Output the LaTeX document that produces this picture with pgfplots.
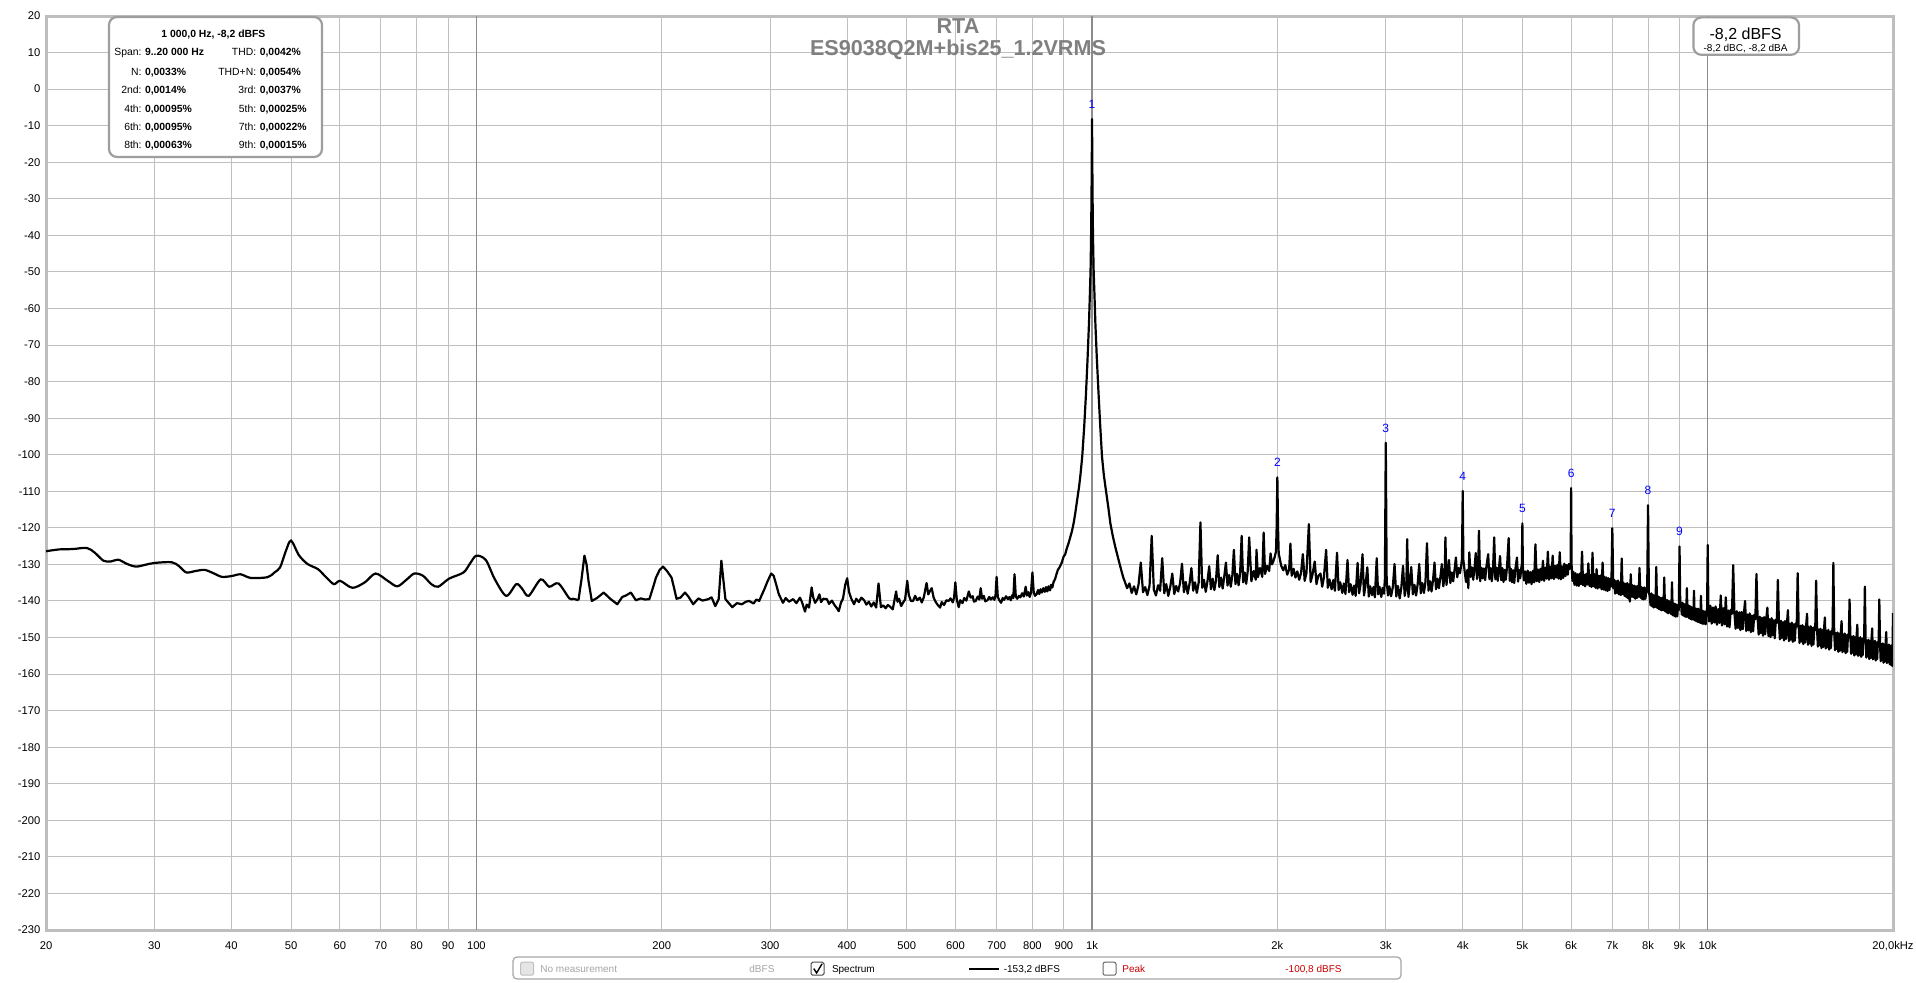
\documentclass[border=0pt]{standalone}
\usepackage{fontspec}
\setmainfont{Liberation Sans}
\usepackage{pgfplots}
\pgfplotsset{compat=1.18}

\definecolor{gridgray}{RGB}{192,192,192}
\definecolor{decgray}{RGB}{140,140,140}
\definecolor{framegray}{RGB}{190,190,190}
\definecolor{titlegray}{RGB}{128,128,128}
\definecolor{peakred}{RGB}{200,0,0}

\newcommand\tickfont{\fontsize{5.6}{6.7}\selectfont}
\newcommand\boxfont{\fontsize{5.2}{6.2}\selectfont}
\newcommand\legfont{\fontsize{5}{6}\selectfont}

% one row of the info box: baseline, label, value, label, value
\newcommand\inforow[5]{%
  \node[anchor=base east, inner sep=0pt, font=\boxfont] at (71pt,#1) {#2};
  \node[anchor=base west, inner sep=0pt, font=\boxfont\bfseries] at (72.3pt,#1) {#3};
  \node[anchor=base east, inner sep=0pt, font=\boxfont] at (128.3pt,#1) {#4};
  \node[anchor=base west, inner sep=0pt, font=\boxfont\bfseries] at (129.7pt,#1) {#5};}

\begin{document}
\begin{tikzpicture}
\path[use as bounding box, fill=white] (0pt,0pt) rectangle (958pt,491pt);

\begin{axis}[
  at={(23pt,26pt)}, anchor=south west,
  scale only axis, width=923.5pt, height=457pt,
  xmode=log, xmin=20, xmax=20000,
  ymin=-230, ymax=20,
  xtick={20,30,40,50,60,70,80,90,100,200,300,400,500,600,700,800,900,1000,2000,3000,4000,5000,6000,7000,8000,9000,10000,20000},
  xticklabels={20,30,40,50,60,70,80,90,100,200,300,400,500,600,700,800,900,1k,2k,3k,4k,5k,6k,7k,8k,9k,10k,{20,0kHz}},
  ytick={-230,-220,...,20},
  yticklabels={-230,-220,-210,-200,-190,-180,-170,-160,-150,-140,-130,-120,-110,-100,-90,-80,-70,-60,-50,-40,-30,-20,-10,0,10,20},
  extra x ticks={100,1000,10000},
  extra x tick labels={},
  extra x tick style={major grid style={decgray, line width=0.6pt}},
  xmajorgrids, ymajorgrids,
  major grid style={gridgray, line width=0.5pt},
  major tick length=0pt, minor tick length=0pt,
  axis line style={framegray, line width=1.5pt},
  tick label style={font=\tickfont, inner sep=0pt},
  xticklabel style={anchor=base, yshift=-9.6pt},
  yticklabel style={anchor=east, xshift=-2.6pt},
]

% low-frequency part of the spectrum
\addplot[black, line width=1.1pt, smooth, tension=0.5] coordinates {
(20,-126.4) (21,-125.9) (22.1,-125.8) (23.3,-125.5) (24,-126.8) (24.8,-129.0) (25.5,-129.2) (26.2,-128.7)
(27.1,-129.9) (28,-130.6) (29,-130.1) (30,-129.6) (32,-129.4) (32.9,-130.5) (33.8,-132.2) (35,-131.8)
(36.2,-131.5) (37.4,-132.4) (38.6,-133.4) (40,-133.2) (41.4,-132.7) (43,-133.7) (45.8,-133.5) (47,-132.2)
(48,-130.8) (49,-126.5) (50,-123.5) (51.5,-127.5) (53.2,-129.9) (55.3,-131.3) (57,-133.5) (58.7,-135.4)
(60.1,-134.5) (62.9,-136.4) (65.9,-134.9) (68.6,-132.5) (71.8,-134.5) (74.4,-136.0) (77,-134.2) (79.3,-132.5)
(81.9,-133.1) (84.5,-135.4) (86.7,-136.1) (90.3,-133.9) (95.3,-132.2) (97.8,-129.6) (100,-127.6) (103.6,-128.8)
(107.1,-134.0) (111.8,-138.6) (116.1,-135.4) (118.6,-136.6) (121.6,-138.6) (127.2,-134.1) (131.3,-136.1) (135.9,-135.2)
(141.6,-139.3) (143.7,-139.4) (146.5,-139.8)
};

% rest of the spectrum
\addplot[black, line width=1.1pt, line join=round] coordinates {
(146.5,-139.8) (148.2,-134) (149.8,-127.6) (151,-130) (152.1,-134.5) (154,-140.0) (157,-139.2) (161,-137.7)
(165,-139.4) (169.4,-140.9) (172.6,-138.9) (175,-138.5) (178.2,-137.7) (181.6,-139.8) (185,-139.3) (188,-139.6)
(191,-139.5) (193.5,-136.5) (195.8,-133.6) (198.5,-131.5) (201,-130.6) (204,-131.8) (207.5,-133.6) (209.5,-136.5)
(211.4,-139.4) (214.5,-139.1) (218.2,-137.7) (221,-138.8) (225,-140.9) (229.4,-139.3) (233,-139.9) (238.2,-139.5)
(241,-139.0) (244.4,-141.4) (247.5,-139.5) (250,-129.0) (251.8,-134) (253.8,-139.5) (260.4,-141.7) (265,-140.6)
(270,-140.9) (274,-140.2) (277.4,-140.0) (282,-140.7) (285,-139.6) (288,-140.0) (290,-138.8) (293.6,-136.8)
(297,-134.7) (301.2,-132.5) (304,-133.1) (306.8,-135.4) (310,-138.2) (314.8,-140.5) (318,-139.2) (322,-140.2)
(327,-139.5) (331,-140.6) (335.4,-139.1) (338,-140.3) (341.8,-142.9) (344,-141.0) (347,-141.8) (350.4,-136.3)
(352.5,-139) (355,-140.5) (358,-139.6) (360.8,-138.2) (363,-140.3) (366,-139.4) (371,-139.5) (374,-140.8)
(378,-139.9) (382,-141.2) (385,-141.9) (387.8,-142.8) (391,-140.5) (394,-139.4) (397.5,-135.5) (400.2,-133.8)
(403,-137.5) (406,-139.2) (410.6,-140.9) (414,-139.4) (418,-140.3) (422,-139.1) (426.4,-139.8) (430,-141.0)
(434,-140.2) (438,-141.5) (442,-140.4) (446,-141.8) (450,-135.2) (454,-141.7) (458,-141.2) (462,-142.0)
(466,-141.1) (470,-141.6) (474.6,-142.3) (478,-139.5) (480.6,-137.4) (483,-140.2) (486,-139.4) (489.8,-141.4)
(493,-140.5) (497,-139.6) (501,-134.5) (504,-138.4) (508,-140.0) (512,-140.0) (516,-138.6) (520,-139.8)
(525.2,-139.1) (529,-140.4) (533,-139.0) (538.6,-135.1) (542,-138.2) (545,-137.4) (549,-136.5) (553,-139.1)
(557,-140.2) (561,-141.0) (566.6,-141.8) (570,-140.3) (575,-141.1) (580,-139.8) (584.8,-140.0) (589,-139.3)
(594,-140.4) (597,-139.0) (599.8,-134.9) (603,-139.6) (607.4,-141.7) (611,-139.8) (616,-140.6) (620,-139.2)
(625,-139.9) (630.8,-137.4) (635,-139.1) (640,-138.7) (643,-140.2) (647.2,-140.0) (652,-138.8) (656,-139.6)
(659.4,-136.5) (663,-139.4) (667,-138.6) (671,-140.1) (676.4,-139.8) (681,-138.9) (685,-139.6) (690,-139.0)
(694,-139.7) (697,-138.5) (699.8,-133.4) (703,-138.9) (707,-139.8) (711.6,-140.5) (716,-139.2) (720,-139.7)
(725,-138.7) (730,-139.5) (734.6,-138.9) (738,-139.8) (742,-138.4) (745,-139.2) (748.4,-132.7) (752,-138.8)
(756,-139.4) (760.8,-138.6) (765,-139.0) (770,-137.9) (775,-138.8) (780.4,-136.1) (784,-138.5) (788,-137.6)
(792,-138.9) (796,-137.8) (800.2,-132.2) (804,-137.6) (808,-138.6) (812.6,-138.2) (817,-137.0) (821,-138.1)
(825,-136.8) (829,-137.7) (833.4,-136.5) (838,-137.5) (842,-136.2) (846,-137.4) (850,-136.0) (854.6,-137.1)
(858,-135.6) (862,-136.3) (866,-134.8) (871,-134.0) (875,-132.8) (880,-131.5) (884,-131.0) (888,-130.4)
(893,-129.5) (899,-127.9) (904.6,-127.2) (910,-125.6) (916,-124.2) (922,-122.5) (928,-120.8) (934,-118.5)
(940,-115.6) (945.6,-112.5) (953,-108.6) (958,-105.2) (964,-100.5) (971,-92.5) (977.5,-83.5) (983,-74.5)
(988.6,-64.1) (992,-56.0) (994.5,-49.5) (996.5,-40.0) (998.2,-28.0) (999.3,-17.0) (1000,-8.2) (1000.7,-17.0)
(1001.8,-28.0) (1003.5,-40.0) (1006,-49.5) (1009,-56.0) (1012.6,-64.1) (1018,-73.5) (1024,-82.3) (1031,-92.0)
(1038,-100.5) (1045,-105.5) (1053,-109.6) (1062,-114.0) (1071,-118.8) (1080,-122.0) (1090,-125.0) (1101,-127.9)
(1110,-130.2) (1118,-132.2) (1125,-133.8) (1131,-134.8)
(1140,-136.5) (1150,-135.2) (1160,-137.8) (1170,-136) (1180,-138.2) (1190,-135.5) (1200,-129.5) (1210,-137.6)
(1220,-136.2) (1230,-138.4) (1240,-135.8) (1250,-122.2) (1260,-136.9) (1270,-138.5) (1280,-135.7) (1290,-137.2)
(1300,-128.3) (1310,-137.9) (1320,-135.4) (1330,-138.6) (1340,-136.1) (1350,-132.5) (1360,-138.1) (1370,-135.9)
(1380,-137.4) (1390,-135.1) (1400,-129.8) (1410,-137.6) (1420,-134.8) (1430,-138.0) (1440,-135.3) (1450,-131.0)
(1460,-137.2) (1470,-134.9) (1480,-137.8) (1490,-135.0) (1500,-118.5) (1510,-136.4) (1520,-134.2) (1530,-137.5)
(1540,-134.6) (1550,-130.5) (1560,-136.8) (1570,-133.9) (1580,-137.0) (1590,-134.3) (1600,-127.5) (1610,-136.2)
(1620,-133.6) (1630,-136.6) (1640,-133.2) (1650,-129.5) (1660,-135.8) (1670,-132.9) (1680,-136.1) (1690,-133.0)
(1700,-126.0) (1710,-135.4) (1720,-132.6) (1730,-135.7) (1740,-132.4) (1750,-122.2) (1760,-134.9) (1770,-132.2)
(1780,-135.3) (1790,-131.9) (1800,-122.6) (1815,-134.6) (1830,-131.8) (1845,-134.2) (1850,-126.0) (1860,-133.5)
(1875,-131.0) (1890,-133.4) (1900,-121.3) (1910,-132.6) (1925,-130.4) (1940,-131.8) (1950,-127.0) (1960,-130.0)
(1970,-129.2) (1980,-128.0) (1990,-126.5) (1995,-120) (2000,-106.2) (2005,-120) (2010,-127.0) (2020,-128.8)
(2030,-130.5) (2045,-131.6) (2060,-130.2) (2075,-132.8) (2090,-131.4) (2100,-124.3) (2110,-133.1) (2125,-131.2)
(2140,-133.6) (2155,-131.9) (2170,-134.2) (2185,-132.4) (2200,-127.2) (2215,-134.5) (2230,-132.3) (2250,-119.0)
(2265,-134.8) (2280,-132.9) (2300,-129.2) (2315,-135.4) (2330,-133.2) (2350,-132.5) (2365,-136.1) (2380,-133.6)
(2400,-126.0) (2415,-136.4) (2430,-134.1) (2450,-136.8) (2465,-134.3) (2480,-137.2) (2500,-126.8) (2515,-137.0)
(2530,-134.9) (2550,-137.8) (2565,-135.2) (2580,-138.1) (2600,-128.8) (2615,-137.6) (2630,-135.4) (2650,-138.3)
(2665,-135.8) (2680,-138.6) (2700,-129.6) (2715,-137.9) (2730,-135.5) (2750,-127.2) (2765,-138.5) (2780,-135.9)
(2800,-130.8) (2815,-138.8) (2830,-136.0) (2850,-138.4) (2865,-136.2) (2880,-139.0) (2900,-128.3) (2915,-138.2)
(2930,-136.1) (2950,-138.9) (2965,-136.4) (2980,-138.0) (2990,-134) (3000,-96.7) (3010,-134.5) (3025,-138.5)
(3040,-136.0) (3060,-138.7) (3080,-136.2) (3100,-129.9) (3120,-138.8) (3140,-135.9) (3160,-139.3) (3180,-136.3)
(3200,-130.4) (3220,-138.6) (3240,-136.0) (3250,-123.1) (3265,-138.9) (3280,-135.8) (3300,-130.7) (3320,-138.2)
(3340,-135.6) (3360,-138.5) (3380,-135.4) (3400,-129.9) (3420,-137.9) (3440,-135.1) (3460,-137.8) (3480,-134.8)
(3500,-124.2) (3520,-137.2) (3540,-134.6) (3560,-137.4) (3580,-134.3) (3600,-129.5) (3620,-136.8) (3640,-133.9)
(3660,-136.5) (3680,-133.4) (3700,-129.9) (3720,-136.0) (3740,-133.1) (3750,-122.6) (3765,-135.6) (3780,-132.8)
(3800,-128.8) (3820,-135.1) (3840,-132.2) (3860,-134.6) (3880,-131.6) (3900,-128.1) (3920,-133.5) (3940,-131.0)
(3960,-132.4) (3980,-130.0) (3990,-128.5) (4000,-109.9) (4010,-128.8) (4030,-132.0) (4050,-134.8) (4070,-131.5)
(4085,-136.5) (4100,-126.7) (4120,-133.4) (4140,-130.8) (4160,-134.2) (4180,-131.2) (4200,-126.9) (4220,-134.0)
(4240,-131.0) (4250,-120.8) (4270,-134.6) (4290,-130.9) (4310,-133.8) (4330,-131.1) (4350,-134.3) (4370,-130.7)
(4400,-127.2) (4420,-134.0) (4440,-131.0) (4460,-134.6) (4480,-131.4) (4500,-122.6) (4520,-134.1) (4540,-130.9)
(4560,-134.5) (4580,-131.3) (4600,-127.7) (4620,-134.3) (4640,-131.0) (4660,-134.8) (4680,-131.5) (4700,-134.2)
(4720,-130.8) (4750,-122.8) (4770,-134.5) (4790,-131.2) (4810,-134.9) (4830,-131.6) (4850,-135.1) (4870,-131.4)
(4900,-128.1) (4920,-134.7) (4940,-131.5) (4960,-133.8) (4980,-131.0) (4990,-130) (5000,-118.8) (5010,-131)
(5030,-134.4) (5050,-131.9) (5075,-135.3) (5100,-131.7) (5125,-135.0) (5150,-132.1) (5175,-135.4) (5200,-131.8)
(5225,-134.9) (5250,-124.5) (5275,-134.6) (5300,-131.4) (5325,-134.8) (5350,-131.2) (5375,-134.3) (5400,-129.0)
(5425,-134.5) (5450,-130.9) (5475,-133.9) (5500,-126.5) (5525,-134.2) (5550,-130.6) (5575,-133.8) (5600,-127.6)
(5625,-134.0) (5650,-130.4) (5675,-133.6) (5700,-130.1) (5725,-133.9) (5750,-126.7) (5775,-134.1) (5800,-130.5)
(5825,-133.7) (5850,-129.8) (5875,-133.2) (5900,-130.2) (5925,-132.8) (5950,-129.9) (5975,-131.2) (5990,-129.5)
(6000,-109.1) (6010,-130.0) (6030,-134.5) (6050,-132.0) (6075,-135.6) (6100,-132.4) (6125,-135.8) (6150,-132.7)
(6175,-135.9) (6200,-132.5) (6225,-135.4) (6250,-126.5) (6275,-135.7) (6300,-132.8) (6325,-136.0) (6350,-132.6)
(6375,-135.5) (6400,-129.7) (6425,-135.9) (6450,-132.9) (6475,-136.2) (6500,-126.8) (6525,-136.0) (6550,-132.7)
(6575,-136.4) (6600,-131.3) (6625,-136.6) (6650,-133.1) (6675,-136.3) (6700,-133.0) (6725,-136.8) (6750,-129.5)
(6775,-136.9) (6800,-133.4) (6825,-137.1) (6850,-133.6) (6875,-137.3) (6900,-133.8) (6925,-137.0) (6950,-133.9)
(6975,-136.0) (7000,-120.1) (7025,-136.5) (7050,-134.2) (7075,-138.0) (7100,-134.6) (7125,-137.8) (7150,-134.4)
(7175,-138.2) (7200,-134.9) (7225,-138.4) (7250,-128.4) (7275,-138.1) (7300,-135.0) (7325,-138.6) (7350,-135.3)
(7375,-138.9) (7400,-135.1) (7425,-139.3) (7450,-135.5) (7475,-140.2) (7500,-132.7) (7525,-138.8) (7550,-135.7)
(7575,-139.0) (7600,-135.8) (7625,-139.4) (7650,-136.0) (7675,-139.2) (7700,-135.9) (7725,-138.8) (7750,-131.0)
(7775,-139.1) (7800,-136.2) (7825,-139.5) (7850,-136.4) (7875,-139.6) (7900,-136.3) (7925,-139.4) (7950,-136.6)
(7975,-137.5) (8000,-113.8) (8025,-137.8) (8050,-138.6) (8075,-141.2) (8100,-137.9) (8125,-141.5) (8150,-138.3)
(8175,-141.8) (8200,-138.5) (8225,-141.6) (8250,-130.7) (8275,-141.9) (8300,-138.7) (8325,-142.2) (8350,-139.0)
(8375,-142.4) (8400,-139.2) (8425,-142.6) (8450,-139.1) (8475,-142.5) (8500,-133.6) (8525,-142.8) (8550,-139.6)
(8575,-143.1) (8600,-139.8) (8625,-143.4) (8650,-140.0) (8675,-143.2) (8700,-140.3) (8725,-143.6) (8750,-134.9)
(8775,-143.9) (8800,-140.6) (8825,-144.1) (8850,-140.8) (8875,-144.3) (8900,-141.0) (8925,-144.2) (8950,-141.2)
(8975,-142.5) (9000,-125.1) (9025,-141.6) (9050,-140.4) (9075,-143.7) (9100,-140.5) (9125,-144.0) (9150,-140.8)
(9175,-144.2) (9200,-141.0) (9225,-144.4) (9250,-136.5) (9275,-144.3) (9300,-141.2) (9325,-144.7) (9350,-141.4)
(9375,-144.9) (9400,-141.6) (9425,-145.1) (9450,-141.8) (9475,-145.0) (9500,-137.2) (9525,-145.3) (9550,-142.0)
(9575,-145.5) (9600,-142.2) (9625,-145.7) (9650,-142.1) (9675,-145.8) (9700,-142.4) (9725,-146.0) (9750,-138.6)
(9775,-146.1) (9800,-142.6) (9825,-146.3) (9850,-142.8) (9875,-146.2) (9900,-142.9) (9925,-146.4) (9950,-143.1)
(9975,-143.5) (10000,-124.7) (10025,-142.0) (10050,-145.6) (10100,-141.3) (10150,-146.2) (10200,-141.8) (10250,-145.9)
(10300,-141.5) (10350,-146.5) (10400,-142.2) (10450,-146.0) (10500,-138.5) (10550,-146.7) (10600,-142.0) (10650,-146.4)
(10700,-139.0) (10750,-147.0) (10800,-142.6) (10850,-147.2) (10900,-142.4) (10950,-143.5) (11000,-130.2) (11050,-143.2)
(11100,-147.6) (11150,-142.8) (11200,-147.4) (11250,-143.1) (11300,-148.0) (11350,-143.0) (11400,-147.7) (11450,-143.5)
(11500,-140.0) (11550,-148.2) (11600,-143.7) (11650,-148.0) (11700,-143.4) (11750,-148.5) (11800,-144.0) (11850,-148.3)
(11900,-143.8) (11950,-145.0) (12000,-132.6) (12050,-144.5) (12100,-149.2) (12150,-144.3) (12200,-148.8) (12250,-144.6)
(12300,-149.5) (12350,-144.4) (12400,-149.1) (12450,-144.9) (12500,-141.8) (12550,-149.6) (12600,-145.0) (12650,-149.9)
(12700,-144.7) (12750,-149.4) (12800,-145.3) (12850,-150.2) (12900,-145.1) (12950,-146.0) (13000,-134.2) (13050,-145.6)
(13100,-150.5) (13150,-145.4) (13200,-150.1) (13250,-145.8) (13300,-150.8) (13350,-145.5) (13400,-150.4) (13450,-146.0)
(13500,-142.5) (13550,-151.0) (13600,-146.2) (13650,-150.6) (13700,-145.9) (13750,-151.2) (13800,-146.4) (13850,-150.9)
(13900,-146.1) (13950,-147.0) (14000,-132.4) (14050,-146.5) (14100,-151.5) (14150,-146.8) (14200,-151.1) (14250,-146.6)
(14300,-151.8) (14350,-147.0) (14400,-151.4) (14450,-146.7) (14500,-143.5) (14550,-152.0) (14600,-147.2) (14650,-151.6)
(14700,-146.9) (14750,-152.3) (14800,-147.4) (14850,-151.9) (14900,-147.1) (14950,-148.0) (15000,-134.4) (15050,-147.5)
(15100,-152.5) (15150,-147.8) (15200,-152.1) (15250,-147.6) (15300,-152.9) (15350,-148.0) (15400,-152.6) (15450,-147.7)
(15500,-144.5) (15550,-153.0) (15600,-148.2) (15650,-152.7) (15700,-147.9) (15750,-153.3) (15800,-148.4) (15850,-152.9)
(15900,-148.1) (15950,-149.0) (16000,-129.6) (16050,-148.5) (16100,-153.5) (16150,-148.8) (16200,-153.1) (16250,-148.6)
(16300,-153.9) (16350,-149.0) (16400,-153.6) (16450,-148.7) (16500,-145.5) (16550,-154.0) (16600,-149.2) (16650,-153.7)
(16700,-148.9) (16750,-154.3) (16800,-149.4) (16850,-153.9) (16900,-149.1) (16950,-150.0) (17000,-139.6) (17050,-149.5)
(17100,-154.5) (17150,-149.8) (17200,-154.1) (17250,-149.6) (17300,-154.9) (17350,-150.0) (17400,-154.6) (17450,-149.7)
(17500,-146.5) (17550,-155.0) (17600,-150.2) (17650,-154.7) (17700,-149.9) (17750,-155.3) (17800,-150.4) (17850,-154.9)
(17900,-150.1) (17950,-151.0) (18000,-136.1) (18050,-150.5) (18100,-155.5) (18150,-150.8) (18200,-155.1) (18250,-150.6)
(18300,-155.9) (18350,-151.0) (18400,-155.6) (18450,-150.7) (18500,-147.5) (18550,-156.0) (18600,-151.2) (18650,-155.7)
(18700,-150.9) (18750,-156.3) (18800,-151.4) (18850,-155.9) (18900,-151.1) (18950,-152.0) (19000,-139.6) (19050,-151.5)
(19100,-156.5) (19150,-151.8) (19200,-156.1) (19250,-151.6) (19300,-156.9) (19350,-152.0) (19400,-156.6) (19450,-151.7)
(19500,-148.5) (19550,-157.0) (19600,-152.2) (19650,-156.7) (19700,-151.9) (19750,-157.3) (19800,-152.4) (19850,-157.5)
(19900,-152.1) (19950,-157.8) (20000,-143.3)
};

% harmonic markers
\addplot[only marks, mark=none, nodes near coords, point meta=explicit symbolic,
  nodes near coords style={font=\fontsize{6}{7}\selectfont, text=blue, anchor=south, inner sep=0pt, yshift=5pt}]
  table[x=f, y=db, meta=lbl] {
f db lbl
1000 -8.2 1
2000 -106.2 2
3000 -96.7 3
4000 -109.9 4
5000 -118.8 5
6000 -109.1 6
7000 -120.1 7
8000 -113.8 8
9000 -125.1 9
};

\node[anchor=base east, inner sep=0pt, font=\tickfont] at (rel axis cs:0,1) [xshift=-1pt, yshift=3.6pt] {dBFS};
\end{axis}

% title
\node[anchor=base, inner sep=0pt, text=titlegray, font=\fontsize{10.8}{12}\selectfont\bfseries] at (479pt,474.3pt) {RTA};
\node[anchor=base, inner sep=0pt, text=titlegray, font=\fontsize{10.8}{12}\selectfont\bfseries] at (479pt,463.2pt) {ES9038Q2M+bis25\_1.2VRMS};

% info box
\draw[black!38, line width=1.1pt, rounded corners=4pt, fill=white] (54.5pt,412.5pt) rectangle (161pt,482.5pt);
\node[anchor=base, inner sep=0pt, font=\boxfont\bfseries] at (106.7pt,472.4pt) {1 000,0 Hz, -8,2 dBFS};
\inforow{463.2pt}{Span:}{9..20 000 Hz}{THD:}{0,0042\%}
\inforow{453.2pt}{N:}{0,0033\%}{THD+N:}{0,0054\%}
\inforow{444.0pt}{2nd:}{0,0014\%}{3rd:}{0,0037\%}
\inforow{434.9pt}{4th:}{0,00095\%}{5th:}{0,00025\%}
\inforow{425.7pt}{6th:}{0,00095\%}{7th:}{0,00022\%}
\inforow{416.5pt}{8th:}{0,00063\%}{9th:}{0,00015\%}

% level box
\draw[black!38, line width=1.1pt, rounded corners=4pt, fill=white] (846.7pt,463.6pt) rectangle (899.5pt,482.3pt);
\node[anchor=base, inner sep=0pt, font=\fontsize{8}{9.6}\selectfont] at (872.8pt,471.3pt) {-8,2 dBFS};
\node[anchor=base, inner sep=0pt, font=\fontsize{5}{6}\selectfont] at (872.8pt,465.4pt) {-8,2 dBC, -8,2 dBA};

% legend bar
\draw[black!35, line width=0.6pt, rounded corners=2pt, fill=white] (256.5pt,1.5pt) rectangle (700.5pt,12.5pt);
\draw[black!25, fill=black!10, line width=0.5pt, rounded corners=1pt] (260.3pt,3.4pt) rectangle (266.8pt,9.9pt);
\node[anchor=base west, inner sep=0pt, font=\legfont, text=black!35] at (270pt,4.8pt) {No measurement};
\node[anchor=base west, inner sep=0pt, font=\legfont, text=black!35] at (374.5pt,4.8pt) {dBFS};
\draw[black!70, fill=white, line width=0.5pt, rounded corners=0.8pt] (405.5pt,3.4pt) rectangle (412pt,9.9pt);
\draw[black, line width=0.7pt] (406.9pt,6.7pt) -- (408.3pt,4.5pt) -- (411pt,9.1pt);
\node[anchor=base west, inner sep=0pt, font=\legfont] at (415.8pt,4.8pt) {Spectrum};
\draw[black, line width=1.1pt] (484.7pt,6.6pt) -- (499.4pt,6.6pt);
\node[anchor=base west, inner sep=0pt, font=\legfont] at (501.7pt,4.8pt) {-153,2 dBFS};
\draw[black!60, fill=white, line width=0.5pt, rounded corners=1pt] (551.5pt,3.4pt) rectangle (558pt,9.9pt);
\node[anchor=base west, inner sep=0pt, font=\legfont, text=peakred] at (561pt,4.8pt) {Peak};
\node[anchor=base west, inner sep=0pt, font=\legfont, text=peakred] at (642.5pt,4.8pt) {-100,8 dBFS};
\end{tikzpicture}
\end{document}
